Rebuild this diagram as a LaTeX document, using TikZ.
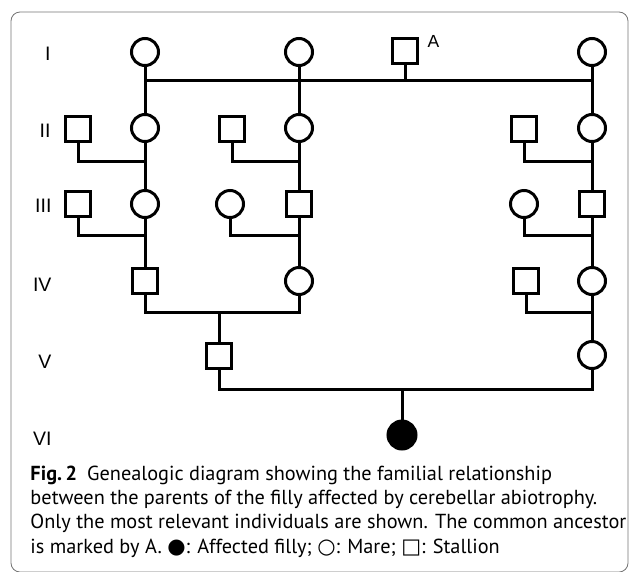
\documentclass[tikz,border=0pt]{standalone}
\usepackage{fontspec}
\setmainfont{Liberation Sans}
\newfontfamily\captionfont{PT Sans}
\newfontfamily\symbolfont{DejaVu Sans}

\begin{document}
\begin{tikzpicture}[x=1pt,y=-1pt,line width=3pt,
		mare/.style={draw,circle,minimum size=27pt,inner sep=0pt},
		stallion/.style={draw,rectangle,minimum size=25pt,inner sep=0pt},
		affected/.style={draw,fill=black,circle,minimum size=28pt,inner sep=0pt},
		gen/.style={anchor=east,inner sep=0pt,font=\fontsize{19.5}{22}\selectfont}]
			\useasboundingbox (0,0) rectangle (629,571);

			% frame
			\draw[line width=0.8pt,black!55,rounded corners=9pt] (11,12) rectangle (628,572);

			% generations
			\node[gen] (genI) at (52,54) {I};
			\node[gen] (genII) at (52,131) {II};
			\node[gen] (genIII) at (53,206) {III};
			\node[gen] (genIV) at (53,285) {IV};
			\node[gen] (genV) at (53,362) {V};
			\node[gen] (genVI) at (53,439) {VI};

			% levels of the sibship and mating lines
			\coordinate (lI) at (0,80);
			\coordinate (lII) at (0,161);
			\coordinate (lIII) at (0,235);
			\coordinate (lIV) at (0,312);
			\coordinate (lV) at (0,389);

			% I
			\node[mare] (I1) at (145,52) {};
			\node[mare] (I2) at (299,52) {};
			\node[stallion] (A) at (405,51) {};
			\node[mare] (I3) at (592,52) {};
			\node[anchor=north west,inner sep=0pt,font=\fontsize{17.5}{20}\selectfont] (Alabel) at ([xshift=7pt,yshift=3pt]A.north east) {A};
			\draw (I1 |- lI) -- (I3 |- lI);
			\draw (A) -- (A |- lI);

			% II
			\node[stallion] (II1s) at (78,129) {};
			\node[mare] (II1) at (145,128) {};
			\node[stallion] (II2s) at (232,129) {};
			\node[mare] (II2) at (299,128) {};
			\node[stallion] (II3s) at (524,129) {};
			\node[mare] (II3) at (592,128) {};
			\draw (I1) -- (II1);
			\draw (I2) -- (II2);
			\draw (I3) -- (II3);
			\draw (II1s) -- (II1s |- lII) -- (II1 |- lII);
			\draw (II2s) -- (II2s |- lII) -- (II2 |- lII);
			\draw (II3s) -- (II3s |- lII) -- (II3 |- lII);

			% III
			\node[stallion] (III1s) at (78,204) {};
			\node[mare] (III1) at (145,204) {};
			\node[mare] (III2m) at (230,204) {};
			\node[stallion] (III2) at (299,204) {};
			\node[mare] (III3m) at (524,204) {};
			\node[stallion] (III3) at (592,204) {};
			\draw (II1) -- (III1);
			\draw (II2) -- (III2);
			\draw (II3) -- (III3);
			\draw (III1s) -- (III1s |- lIII) -- (III1 |- lIII);
			\draw (III2m) -- (III2m |- lIII) -- (III2 |- lIII);
			\draw (III3m) -- (III3m |- lIII) -- (III3 |- lIII);

			% IV
			\node[stallion] (IV1) at (145,281) {};
			\node[mare] (IV2) at (299,281) {};
			\node[stallion] (IV3s) at (526,281) {};
			\node[mare] (IV3) at (592,281) {};
			\draw (III1) -- (IV1);
			\draw (III2) -- (IV2);
			\draw (III3) -- (IV3);
			\draw (IV1) -- (IV1 |- lIV) -- (IV2 |- lIV) -- (IV2);
			\draw (IV3s) -- (IV3s |- lIV) -- (IV3 |- lIV);

			% V
			\node[stallion] (V1) at (219,356) {};
			\node[mare] (V2) at (592,355) {};
			\draw (V1) -- (V1 |- lIV);
			\draw (IV3) -- (V2);
			\draw (V1) -- (V1 |- lV) -- (V2 |- lV) -- (V2);

			% VI
			\node[affected] (VI1) at (402,435) {};
			\draw (VI1) -- (VI1 |- lV);

			% caption
			\node[anchor=north west,align=left,inner sep=0pt,
				font=\captionfont\fontsize{20.3}{24.4}\selectfont] (caption) at (29,464) {
				\textbf{Fig.\,2}\enspace Genealogic diagram showing the familial relationship\\
				between the parents of the filly affected by cerebellar abiotrophy.\\
				Only the most relevant individuals are shown. The common ancestor\\
				is marked by A. {\symbolfont\fontsize{21}{24.4}\selectfont ●}: Affected filly; {\symbolfont\fontsize{21}{24.4}\selectfont ○}: Mare; {\symbolfont\fontsize{21}{24.4}\selectfont □}: Stallion
			};
		\end{tikzpicture}
\end{document}
